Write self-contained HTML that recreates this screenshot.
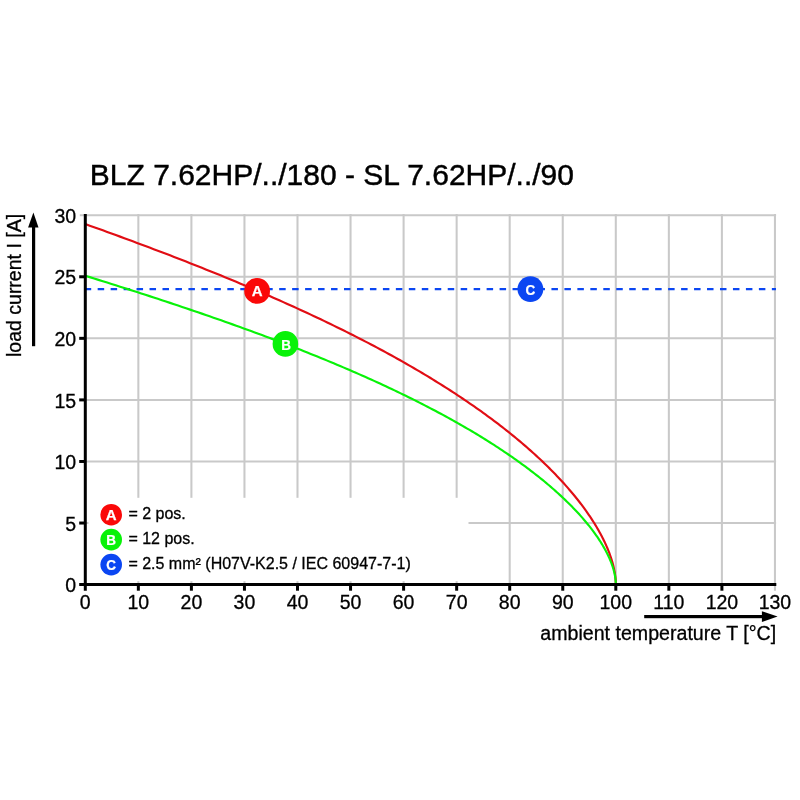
<!DOCTYPE html>
<html><head><meta charset="utf-8"><title>Derating curve</title>
<style>
html,body{margin:0;padding:0;background:#fff}
svg{display:block}
text{font-family:"Liberation Sans",Arial,Helvetica,sans-serif;fill:#000;stroke:#000;stroke-width:.3}
.b{font-weight:bold;fill:#fff;stroke:#fff;stroke-width:.25;text-anchor:middle}
.m{text-anchor:middle}
.e{text-anchor:end}
</style></head><body>
<svg width="800" height="800" viewBox="0 0 800 800">
<rect width="800" height="800" fill="#fff"/>
<g stroke="#c9c9c9" stroke-width="2.05" fill="none">
<line x1="138.35" y1="214.11" x2="138.35" y2="584.60"/>
<line x1="191.40" y1="214.11" x2="191.40" y2="584.60"/>
<line x1="244.45" y1="214.11" x2="244.45" y2="584.60"/>
<line x1="297.50" y1="214.11" x2="297.50" y2="584.60"/>
<line x1="350.55" y1="214.11" x2="350.55" y2="584.60"/>
<line x1="403.60" y1="214.11" x2="403.60" y2="584.60"/>
<line x1="456.65" y1="214.11" x2="456.65" y2="584.60"/>
<line x1="509.70" y1="214.11" x2="509.70" y2="584.60"/>
<line x1="562.75" y1="214.11" x2="562.75" y2="584.60"/>
<line x1="615.80" y1="214.11" x2="615.80" y2="584.60"/>
<line x1="668.85" y1="214.11" x2="668.85" y2="584.60"/>
<line x1="721.90" y1="214.11" x2="721.90" y2="584.60"/>
<line x1="774.95" y1="214.11" x2="774.95" y2="590.70"/>
<line x1="85.30" y1="523.03" x2="776.10" y2="523.03"/>
<line x1="85.30" y1="461.47" x2="776.10" y2="461.47"/>
<line x1="85.30" y1="399.90" x2="776.10" y2="399.90"/>
<line x1="85.30" y1="338.34" x2="776.10" y2="338.34"/>
<line x1="85.30" y1="276.78" x2="776.10" y2="276.78"/>
<line x1="79.80" y1="215.21" x2="776.10" y2="215.21"/>
</g>
<rect x="88.5" y="497.8" width="380" height="83.4" fill="#fff"/>
<line x1="84.7" y1="289.09" x2="775.95" y2="289.09" stroke="#0b46f2" stroke-width="2.35" stroke-dasharray="6.5 6.465"/>
<polyline points="85.30,224.07 89.71,225.65 94.10,227.22 98.48,228.79 102.84,230.36 107.17,231.93 111.49,233.50 115.79,235.07 120.08,236.63 124.34,238.20 128.59,239.76 132.81,241.33 137.02,242.89 141.21,244.45 145.39,246.01 149.54,247.57 153.68,249.14 157.79,250.69 161.89,252.25 165.97,253.81 170.03,255.37 174.08,256.93 178.10,258.49 182.11,260.04 186.09,261.60 190.06,263.16 194.02,264.72 197.95,266.27 201.86,267.83 205.76,269.38 209.64,270.94 213.49,272.50 217.34,274.05 221.16,275.61 224.96,277.17 228.75,278.72 232.51,280.28 236.26,281.84 239.99,283.39 243.70,284.95 247.40,286.51 251.07,288.07 254.73,289.63 258.37,291.18 261.99,292.74 265.59,294.30 269.17,295.86 272.73,297.42 276.28,298.98 279.81,300.54 283.32,302.11 286.81,303.67 290.28,305.23 293.73,306.79 297.17,308.36 300.59,309.92 303.98,311.49 307.36,313.05 310.73,314.62 314.07,316.18 317.39,317.75 320.70,319.32 323.99,320.89 327.26,322.46 330.51,324.03 333.74,325.60 336.96,327.17 340.15,328.74 343.33,330.31 346.49,331.88 349.63,333.46 352.75,335.03 355.86,336.61 358.94,338.18 362.01,339.76 365.06,341.34 368.09,342.91 371.10,344.49 374.09,346.07 377.07,347.65 380.02,349.23 382.96,350.81 385.88,352.39 388.78,353.98 391.66,355.56 394.53,357.14 397.37,358.73 400.20,360.31 403.01,361.90 405.80,363.48 408.57,365.07 411.33,366.66 414.06,368.25 416.78,369.83 419.48,371.42 422.16,373.01 424.82,374.60 427.46,376.19 430.09,377.78 432.69,379.37 435.28,380.96 437.85,382.55 440.40,384.15 442.94,385.74 445.45,387.33 447.95,388.92 450.42,390.52 452.88,392.11 455.32,393.70 457.75,395.30 460.15,396.89 462.54,398.49 464.90,400.08 467.25,401.67 469.58,403.27 471.89,404.86 474.19,406.45 476.46,408.05 478.72,409.64 480.96,411.24 483.18,412.83 485.38,414.42 487.56,416.02 489.72,417.61 491.87,419.20 494.00,420.79 496.11,422.38 498.20,423.97 500.27,425.56 502.32,427.15 504.36,428.74 506.38,430.33 508.37,431.92 510.35,433.51 512.32,435.09 514.26,436.68 516.18,438.26 518.09,439.85 519.98,441.43 521.85,443.01 523.70,444.59 525.53,446.17 527.35,447.75 529.14,449.32 530.92,450.90 532.68,452.47 534.42,454.05 536.14,455.62 537.85,457.19 539.53,458.76 541.20,460.32 542.85,461.89 544.48,463.45 546.09,465.01 547.68,466.57 549.26,468.13 550.81,469.68 552.35,471.23 553.87,472.78 555.37,474.33 556.86,475.88 558.32,477.42 559.77,478.96 561.19,480.50 562.60,482.04 563.99,483.57 565.37,485.10 566.72,486.63 568.05,488.16 569.37,489.68 570.67,491.20 571.95,492.71 573.21,494.23 574.46,495.74 575.68,497.24 576.89,498.75 578.08,500.25 579.25,501.74 580.40,503.23 581.53,504.72 582.64,506.21 583.74,507.69 584.82,509.16 585.88,510.63 586.92,512.10 587.94,513.57 588.94,515.03 589.93,516.48 590.90,517.93 591.84,519.38 592.77,520.82 593.69,522.26 594.58,523.69 595.45,525.11 596.31,526.53 597.15,527.95 597.97,529.36 598.77,530.77 599.55,532.17 600.32,533.56 601.06,534.95 601.79,536.33 602.50,537.71 603.19,539.08 603.86,540.45 604.52,541.81 605.15,543.16 605.77,544.50 606.37,545.84 606.95,547.18 607.51,548.50 608.05,549.82 608.58,551.13 609.09,552.44 609.57,553.74 610.04,555.03 610.49,556.31 610.93,557.59 611.34,558.86 611.74,560.12 612.12,561.37 612.48,562.62 612.82,563.85 613.14,565.08 613.44,566.30 613.73,567.51 613.99,568.72 614.24,569.91 614.47,571.10 614.69,572.28 614.88,573.44 615.05,574.60 615.21,575.75 615.35,576.89 615.47,578.02 615.57,579.14 615.65,580.26 615.72,581.36 615.76,582.45 615.79,583.53 615.80,584.60" fill="none" stroke="#e10d14" stroke-width="2.15" stroke-linejoin="round"/>
<polyline points="85.30,275.75 89.71,277.12 94.10,278.49 98.48,279.86 102.84,281.22 107.17,282.58 111.49,283.94 115.79,285.30 120.08,286.66 124.34,288.02 128.59,289.38 132.81,290.73 137.02,292.09 141.21,293.44 145.39,294.79 149.54,296.14 153.68,297.49 157.79,298.84 161.89,300.19 165.97,301.54 170.03,302.89 174.08,304.23 178.10,305.58 182.11,306.93 186.09,308.27 190.06,309.61 194.02,310.96 197.95,312.30 201.86,313.64 205.76,314.99 209.64,316.33 213.49,317.67 217.34,319.01 221.16,320.35 224.96,321.70 228.75,323.04 232.51,324.38 236.26,325.72 239.99,327.06 243.70,328.40 247.40,329.74 251.07,331.08 254.73,332.42 258.37,333.76 261.99,335.10 265.59,336.45 269.17,337.79 272.73,339.13 276.28,340.47 279.81,341.81 283.32,343.15 286.81,344.50 290.28,345.84 293.73,347.18 297.17,348.52 300.59,349.87 303.98,351.21 307.36,352.56 310.73,353.90 314.07,355.25 317.39,356.59 320.70,357.94 323.99,359.28 327.26,360.63 330.51,361.98 333.74,363.33 336.96,364.67 340.15,366.02 343.33,367.37 346.49,368.72 349.63,370.07 352.75,371.42 355.86,372.77 358.94,374.13 362.01,375.48 365.06,376.83 368.09,378.18 371.10,379.54 374.09,380.89 377.07,382.25 380.02,383.60 382.96,384.96 385.88,386.32 388.78,387.67 391.66,389.03 394.53,390.39 397.37,391.75 400.20,393.11 403.01,394.46 405.80,395.82 408.57,397.19 411.33,398.55 414.06,399.91 416.78,401.27 419.48,402.63 422.16,403.99 424.82,405.36 427.46,406.72 430.09,408.08 432.69,409.45 435.28,410.81 437.85,412.18 440.40,413.54 442.94,414.91 445.45,416.27 447.95,417.64 450.42,419.00 452.88,420.37 455.32,421.74 457.75,423.10 460.15,424.47 462.54,425.84 464.90,427.20 467.25,428.57 469.58,429.94 471.89,431.30 474.19,432.67 476.46,434.04 478.72,435.40 480.96,436.77 483.18,438.14 485.38,439.50 487.56,440.87 489.72,442.23 491.87,443.60 494.00,444.96 496.11,446.33 498.20,447.69 500.27,449.06 502.32,450.42 504.36,451.78 506.38,453.14 508.37,454.51 510.35,455.87 512.32,457.23 514.26,458.59 516.18,459.95 518.09,461.30 519.98,462.66 521.85,464.02 523.70,465.37 525.53,466.73 527.35,468.08 529.14,469.43 530.92,470.78 532.68,472.13 534.42,473.48 536.14,474.83 537.85,476.17 539.53,477.52 541.20,478.86 542.85,480.20 544.48,481.54 546.09,482.88 547.68,484.21 549.26,485.55 550.81,486.88 552.35,488.21 553.87,489.54 555.37,490.87 556.86,492.19 558.32,493.52 559.77,494.84 561.19,496.16 562.60,497.47 563.99,498.78 565.37,500.10 566.72,501.40 568.05,502.71 569.37,504.01 570.67,505.31 571.95,506.61 573.21,507.91 574.46,509.20 575.68,510.49 576.89,511.77 578.08,513.06 579.25,514.34 580.40,515.61 581.53,516.89 582.64,518.16 583.74,519.42 584.82,520.68 585.88,521.94 586.92,523.20 587.94,524.45 588.94,525.69 589.93,526.94 590.90,528.18 591.84,529.41 592.77,530.64 593.69,531.87 594.58,533.09 595.45,534.31 596.31,535.52 597.15,536.73 597.97,537.93 598.77,539.13 599.55,540.32 600.32,541.51 601.06,542.69 601.79,543.87 602.50,545.04 603.19,546.21 603.86,547.37 604.52,548.52 605.15,549.67 605.77,550.82 606.37,551.95 606.95,553.09 607.51,554.21 608.05,555.33 608.58,556.44 609.09,557.55 609.57,558.65 610.04,559.74 610.49,560.83 610.93,561.91 611.34,562.98 611.74,564.05 612.12,565.11 612.48,566.16 612.82,567.20 613.14,568.24 613.44,569.27 613.73,570.29 613.99,571.30 614.24,572.31 614.47,573.31 614.69,574.29 614.88,575.28 615.05,576.25 615.21,577.21 615.35,578.17 615.47,579.11 615.57,580.05 615.65,580.98 615.72,581.90 615.76,582.81 615.79,583.71 615.80,584.60" fill="none" stroke="#08f208" stroke-width="2.15" stroke-linejoin="round"/>
<g stroke="#000" stroke-width="3.0" fill="none">
<line x1="85.30" y1="213.9" x2="85.30" y2="590.7"/>
<line x1="79.2" y1="584.60" x2="776.3" y2="584.60"/>
<line x1="79.2" y1="523.03" x2="85.30" y2="523.03"/>
<line x1="79.2" y1="461.47" x2="85.30" y2="461.47"/>
<line x1="79.2" y1="399.90" x2="85.30" y2="399.90"/>
<line x1="79.2" y1="338.34" x2="85.30" y2="338.34"/>
<line x1="79.2" y1="276.78" x2="85.30" y2="276.78"/>
<line x1="138.35" y1="584.60" x2="138.35" y2="590.7"/>
<line x1="191.40" y1="584.60" x2="191.40" y2="590.7"/>
<line x1="244.45" y1="584.60" x2="244.45" y2="590.7"/>
<line x1="297.50" y1="584.60" x2="297.50" y2="590.7"/>
<line x1="350.55" y1="584.60" x2="350.55" y2="590.7"/>
<line x1="403.60" y1="584.60" x2="403.60" y2="590.7"/>
<line x1="456.65" y1="584.60" x2="456.65" y2="590.7"/>
<line x1="509.70" y1="584.60" x2="509.70" y2="590.7"/>
<line x1="562.75" y1="584.60" x2="562.75" y2="590.7"/>
<line x1="615.80" y1="584.60" x2="615.80" y2="590.7"/>
<line x1="668.85" y1="584.60" x2="668.85" y2="590.7"/>
<line x1="721.90" y1="584.60" x2="721.90" y2="590.7"/>
</g>
<g font-size="19.5">
<text class="e" x="76.1" y="592.20">0</text>
<text class="e" x="76.1" y="530.63">5</text>
<text class="e" x="76.1" y="469.07">10</text>
<text class="e" x="76.1" y="407.50">15</text>
<text class="e" x="76.1" y="345.94">20</text>
<text class="e" x="76.1" y="284.38">25</text>
<text class="e" x="76.1" y="222.81">30</text>
<text class="m" x="85.30" y="608.6">0</text>
<text class="m" x="138.35" y="608.6">10</text>
<text class="m" x="191.40" y="608.6">20</text>
<text class="m" x="244.45" y="608.6">30</text>
<text class="m" x="297.50" y="608.6">40</text>
<text class="m" x="350.55" y="608.6">50</text>
<text class="m" x="403.60" y="608.6">60</text>
<text class="m" x="456.65" y="608.6">70</text>
<text class="m" x="509.70" y="608.6">80</text>
<text class="m" x="562.75" y="608.6">90</text>
<text class="m" x="615.80" y="608.6">100</text>
<text class="m" x="668.85" y="608.6">110</text>
<text class="m" x="721.90" y="608.6">120</text>
<text class="m" x="774.95" y="608.6">130</text>
<text class="e" x="776.2" y="639.8" font-size="19.6">ambient temperature T [°C]</text>
<text transform="translate(21.2 357.0) rotate(-90)">load current I [A]</text>
</g>
<text x="89.8" y="184.8" font-size="30" style="stroke-width:.45">BLZ 7.62HP/../180 - SL 7.62HP/../90</text>
<g fill="#000" stroke="none">
<rect x="32" y="226" width="3.2" height="120.2"/>
<polygon points="33.4,212.6 38.5,227.6 28.1,227.6"/>
<rect x="644.2" y="615.0" width="119" height="3.2"/>
<polygon points="777.6,616.6 761.9,611.2 761.9,622.0"/>
</g>
<circle cx="257.1" cy="290.9" r="12.9" fill="#fa0808"/>
<text class="b" transform="translate(257.10 295.85) scale(1.0 1)" font-size="15">A</text>
<circle cx="285.4" cy="343.9" r="12.8" fill="#08f208"/>
<text class="b" transform="translate(286.20 349.85) scale(0.9 1)" font-size="15">B</text>
<circle cx="530.4" cy="289.1" r="12.9" fill="#0b46f2"/>
<text class="b" transform="translate(530.40 294.95) scale(0.9 1)" font-size="15">C</text>
<circle cx="111.2" cy="514.7" r="10.8" fill="#fa0808"/>
<text class="b" transform="translate(111.20 519.65) scale(1.0 1)" font-size="15">A</text>
<circle cx="111.2" cy="539.6" r="10.8" fill="#08f208"/>
<text class="b" transform="translate(111.20 544.55) scale(0.9 1)" font-size="15">B</text>
<circle cx="111.2" cy="564.6" r="10.8" fill="#0b46f2"/>
<text class="b" transform="translate(111.20 569.55) scale(0.9 1)" font-size="15">C</text>
<g font-size="16">
<text x="128.4" y="518.7">= 2 pos.</text>
<text x="128.4" y="543.7">= 12 pos.</text>
<text x="128.4" y="568.7">= 2.5 mm² (H07V-K2.5 / IEC 60947-7-1)</text>
</g>
</svg></body></html>
